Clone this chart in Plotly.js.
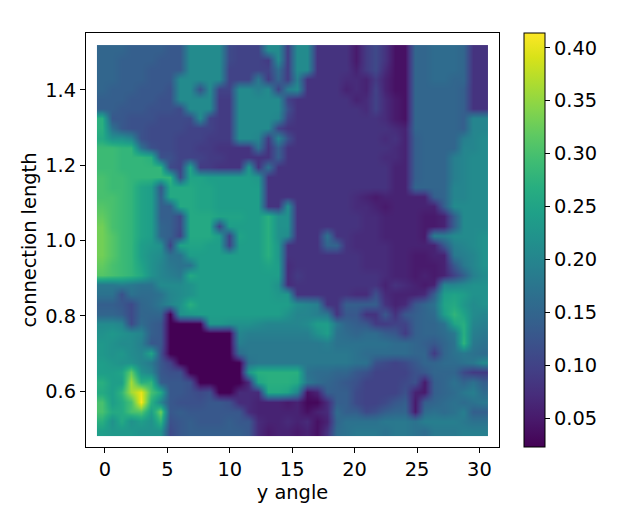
<!DOCTYPE html>
<html>
<head>
<meta charset="utf-8">
<script src="https://cdn.plot.ly/plotly-3.0.1.min.js"></script>
<style>html,body{margin:0;padding:0;background:#fff}</style>
</head>
<body>
<div id="chart" style="width:640px;height:511px"></div>
<script>
// values in hundredths, top row first
const gridHundredths = [
  [15,15,15,14,14,14,14,13,13,21,21,21,21,11,10,10,10,21,21,9,21,21,8,8,8,8,5,9,11,8,4,4,15,15,16,16,16,15,8,8],
  [15,15,14,14,14,14,13,13,13,21,21,21,21,11,10,10,10,9,21,9,21,21,8,8,8,8,5,9,11,8,4,4,15,15,16,16,16,15,8,8],
  [15,15,14,14,14,13,13,13,13,21,21,21,21,10,10,10,10,10,16,9,21,21,8,8,8,8,6,9,11,7,4,4,15,15,16,16,16,15,8,8],
  [15,15,14,14,14,13,13,13,21,21,21,21,21,10,10,10,18,9,15,9,19,8,8,8,8,7,7,6,9,6,4,4,15,15,16,16,15,15,8,8],
  [15,14,14,14,13,13,13,12,21,21,12,21,10,10,21,21,19,21,10,19,21,8,8,8,8,6,7,6,10,6,4,4,15,15,15,15,15,14,8,8],
  [14,14,14,13,13,13,12,12,21,21,21,21,9,9,21,21,21,21,21,10,8,8,8,8,8,8,6,7,10,7,5,4,15,15,15,15,15,14,8,8],
  [14,14,13,13,13,12,12,12,11,21,21,21,9,9,21,21,21,21,21,12,8,8,8,8,8,8,8,7,10,7,5,4,15,15,15,15,15,14,8,8],
  [27,13,13,12,12,12,11,11,11,11,21,10,9,9,21,21,21,21,20,10,8,8,8,8,8,8,8,8,8,7,5,4,15,15,15,15,15,14,20,20],
  [27,17,13,12,12,11,11,11,11,10,10,10,9,9,21,21,21,21,10,8,8,8,8,8,8,8,8,8,8,8,7,6,15,15,15,15,15,14,20,20],
  [26,22,22,20,12,11,11,11,10,10,10,9,9,9,21,21,20,9,20,12,8,8,8,8,8,8,8,8,8,7,8,6,14,15,15,15,15,19,20,21],
  [29,29,28,28,17,12,11,11,10,10,9,9,8,8,8,8,17,8,14,8,8,8,8,8,8,8,8,8,8,8,7,6,14,15,15,15,15,20,20,21],
  [29,29,28,28,28,27,12,12,10,10,10,9,9,8,8,8,8,8,14,8,8,8,8,8,8,8,8,8,8,7,7,6,14,15,15,15,19,20,21,21],
  [29,29,28,28,28,28,28,11,10,25,9,9,8,8,8,23,8,17,8,8,8,8,8,8,8,8,8,8,8,8,6,6,14,15,15,15,19,20,21,21],
  [30,29,29,28,28,28,28,28,11,25,25,24,24,24,24,24,23,8,8,8,8,8,8,8,8,8,8,8,8,8,6,6,14,15,15,15,19,20,21,21],
  [30,29,29,28,25,24,13,26,26,26,25,25,24,24,24,24,24,8,8,8,8,8,8,8,8,8,8,8,8,8,6,6,15,15,15,15,20,20,21,21],
  [30,30,29,28,25,24,14,26,26,26,25,25,24,24,24,24,24,8,8,8,8,8,8,8,8,8,7,6,5,6,6,6,6,6,14,15,20,20,21,21],
  [31,30,29,28,25,24,14,14,26,26,25,25,24,24,24,24,24,8,8,22,8,8,8,8,8,8,7,7,6,5,6,6,6,6,6,14,21,21,21,21],
  [32,30,29,28,25,24,14,14,11,26,26,26,25,25,25,24,24,27,22,22,8,8,8,8,8,8,8,7,7,6,6,6,6,5,5,6,14,21,21,21],
  [33,30,29,28,25,24,15,14,11,26,26,26,10,24,24,24,24,27,22,22,8,8,8,8,8,8,8,7,7,6,6,6,6,5,5,6,14,21,21,21],
  [33,31,29,28,25,24,15,14,10,26,26,26,24,10,25,24,24,27,22,21,8,8,8,17,8,8,7,7,7,6,6,6,6,5,19,19,21,21,21,22],
  [33,31,29,28,24,23,22,10,25,25,25,24,24,10,24,24,24,27,23,8,8,8,8,15,15,8,7,7,7,7,6,6,6,6,6,13,19,20,21,22],
  [33,31,29,28,24,22,21,17,17,24,24,24,24,24,24,24,24,27,23,8,8,8,8,8,8,8,8,7,7,7,6,6,5,5,6,6,18,19,20,22],
  [32,30,29,28,25,22,20,18,17,17,24,24,24,24,24,24,24,25,24,7,8,8,8,8,8,8,8,7,7,7,6,6,5,5,5,6,13,18,20,22],
  [31,30,29,28,26,22,20,19,18,26,24,24,24,24,24,24,24,24,24,7,9,8,8,8,8,8,8,8,8,7,6,6,5,6,5,6,10,14,19,21],
  [18,18,19,18,17,17,21,21,21,22,24,24,24,24,24,24,24,24,22,7,8,8,8,8,8,8,8,8,8,6,8,7,6,5,6,20,20,21,22,22],
  [17,17,12,17,16,16,17,20,21,22,24,24,24,24,24,24,24,24,23,23,8,8,8,8,8,8,7,7,12,7,6,6,6,7,14,24,25,24,22,22],
  [14,14,13,11,15,16,18,20,22,27,24,24,24,24,24,24,24,24,24,24,21,20,19,8,8,14,14,14,14,8,6,7,13,15,17,25,26,23,21,22],
  [15,15,14,11,15,15,15,2,22,23,24,24,24,24,24,24,24,24,24,22,20,20,19,18,8,13,13,8,8,13,8,13,14,15,16,24,28,25,21,20],
  [21,21,20,11,16,14,13,2,2,2,2,23,23,22,22,22,21,20,20,20,20,21,24,24,18,15,14,13,9,9,10,10,14,15,15,17,25,27,20,19],
  [22,23,22,21,20,14,13,2,2,2,2,2,2,2,20,19,19,19,19,19,19,19,22,24,17,16,15,16,16,14,13,9,14,15,15,16,18,27,19,18],
  [23,22,21,21,19,13,13,2,2,2,2,2,2,2,19,18,18,18,18,18,18,18,18,19,17,17,17,17,17,17,16,16,15,14,13,15,17,28,18,17],
  [23,22,23,21,20,25,12,2,2,2,2,2,2,2,16,18,18,18,18,18,18,18,18,18,18,18,17,16,16,16,16,16,15,15,9,15,17,18,17,16],
  [24,23,22,22,20,18,13,10,2,2,2,2,2,2,2,17,18,18,18,18,18,18,18,18,18,18,17,17,12,11,10,11,13,15,15,16,16,17,18,21],
  [24,24,25,32,22,20,13,12,12,2,2,2,2,2,2,23,27,27,27,27,27,17,16,16,15,15,13,12,10,10,10,10,12,13,15,15,15,11,9,9],
  [27,24,24,36,27,28,14,13,13,12,2,2,2,2,2,7,25,27,27,27,26,18,16,15,14,13,12,10,10,10,10,11,12,5,14,15,17,15,17,14],
  [26,24,28,36,40,30,26,13,13,12,11,12,2,2,7,7,7,26,26,25,20,4,6,14,14,14,11,10,10,10,10,12,6,5,14,15,16,18,19,16],
  [30,24,26,30,41,27,20,13,12,12,12,13,13,12,7,7,6,6,6,5,6,3,3,7,14,14,11,10,10,11,13,14,5,14,15,16,17,16,17,18],
  [30,26,26,30,31,24,33,13,14,13,13,13,13,13,13,7,6,6,6,6,6,4,6,7,16,14,14,11,12,14,15,15,5,16,17,16,17,19,14,14],
  [27,22,26,22,24,22,28,12,13,14,13,13,13,14,13,13,7,6,6,7,6,7,4,6,15,17,17,17,17,18,18,18,17,19,19,19,19,18,17,17],
  [24,23,23,23,22,22,22,11,13,14,14,14,14,14,14,13,7,5,6,6,5,6,4,8,16,17,18,18,18,17,18,18,17,16,18,18,18,19,19,19],
];
const xTicks = [0, 5, 10, 15, 20, 25, 30];
const yTicks = [0.6, 0.8, 1.0, 1.2, 1.4];
const cbTicks = [0.05, 0.10, 0.15, 0.20, 0.25, 0.30, 0.35, 0.40];

const FONT = { family: 'DejaVu Sans, sans-serif', size: 19.4, color: '#000' };

const trace = {
  type: 'heatmap',
  z: gridHundredths.map(row => row.map(v => v / 100)),
  x0: -0.25, dx: 0.783,
  y0: 1.506, dy: -0.02595,
  colorscale: 'Viridis',
  zmin: 0.0226, zmax: 0.414,
  zsmooth: 'best',
  colorbar: {
    x: 1.0605, xanchor: 'left', xpad: 0,
    y: 0, yanchor: 'bottom', ypad: 0,
    len: 1, lenmode: 'fraction',
    thickness: 21,
    outlinewidth: 1, outlinecolor: '#000',
    ticks: 'outside', ticklen: 5, tickwidth: 1, tickcolor: '#000',
    tickvals: cbTicks, ticktext: cbTicks.map(t => t.toFixed(2)),
    tickfont: FONT,
  },
};

const axisBase = {
  showgrid: false, zeroline: false,
  showline: true, mirror: true, linecolor: '#000', linewidth: 1,
  ticks: 'outside', ticklen: 5, tickwidth: 1, tickcolor: '#000',
  tickfont: FONT,
};

const layout = {
  width: 640, height: 511,
  margin: { l: 86, r: 141, t: 33, b: 64 },
  paper_bgcolor: '#fff', plot_bgcolor: '#fff',
  font: FONT,
  xaxis: {
    ...axisBase,
    range: [-1.52, 31.57],
    tickvals: xTicks,
    title: { text: 'y angle', font: FONT, standoff: 2 },
  },
  yaxis: {
    ...axisBase,
    range: [0.4515, 1.551],
    tickvals: yTicks, ticktext: yTicks.map(t => t.toFixed(1)),
    title: { text: 'connection length', font: FONT, standoff: 3 },
  },
};

Plotly.newPlot('chart', [trace], layout, { displayModeBar: false, responsive: false });
</script>
</body>
</html>
